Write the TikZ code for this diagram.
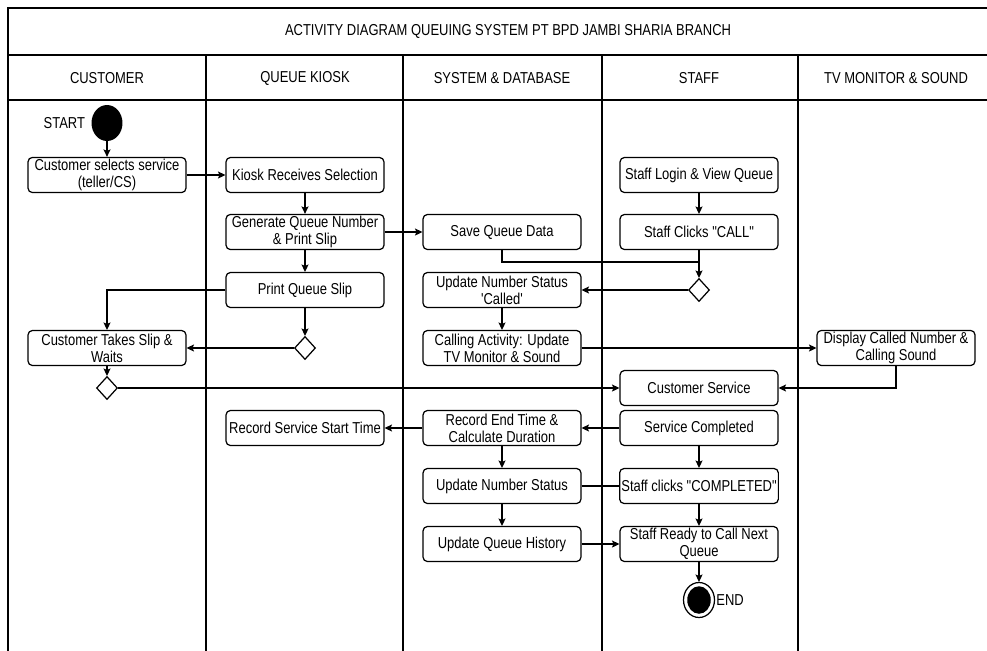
\documentclass[tikz,border=0pt]{standalone}
\usepackage{fontspec}
\newfontfamily\lanefont[FakeStretch=0.82]{Liberation Sans}
\usetikzlibrary{arrows.meta,shapes.geometric}

\tikzset{
  act/.style={draw, rounded corners=2.5pt, line width=0.7pt, minimum width=3.16cm,
    minimum height=0.7cm, align=center, inner sep=1pt, font=\lanefont\fontsize{9}{9.6}\selectfont},
  dec/.style={draw, diamond, line width=0.7pt, inner sep=0pt, minimum width=0.42cm, minimum height=0.46cm},
  flow/.style={line width=0.7pt, -{Stealth[length=4.2pt,width=4pt,inset=0.8pt]}},
  lane/.style={line width=0.85pt},
  lbl/.style={font=\lanefont\fontsize{9}{9.6}\selectfont}
}

\begin{document}
\begin{tikzpicture}[x=0.02cm, y=-0.02cm]
  \useasboundingbox (0,0) rectangle (987,650);

  % swimlane frame
  \draw[lane] (8,660) -- (8,8) -- (1010,8);
  \draw[lane] (8,55) -- (1010,55);
  \draw[lane] (8,100) -- (1010,100);
  \foreach \x in {206,403,602,798}
    \draw[lane] (\x,55) -- (\x,660);

  \node[lbl] (title) at (508,31) {ACTIVITY DIAGRAM QUEUING SYSTEM PT BPD JAMBI SHARIA BRANCH};
  \node[lbl] (hcust)  at (107,78) {CUSTOMER};
  \node[lbl] (hkiosk) at (305,78) {QUEUE KIOSK};
  \node[lbl] (hsys)   at (502,78) {SYSTEM \& DATABASE};
  \node[lbl] (hstaff) at (699,78) {STAFF};
  \node[lbl] (htv)    at (896,78) {TV MONITOR \& SOUND};

  % customer lane
  \node[ellipse, fill=black, minimum width=0.62cm, minimum height=0.72cm, inner sep=0pt] (start) at (107,123) {};
  \node[lbl, anchor=east] (startlbl) at (start.west) {START};
  \node[act] (sel) at (107,175) {Customer selects service\\(teller/CS)};
  \node[act] (takes) at (107,348) {Customer Takes Slip \&\\Waits};
  \node[dec] (d2) at (107,388) {};

  % queue kiosk lane
  \node[act] (kiosk) at (305,175) {Kiosk Receives Selection};
  \node[act] (gen) at (305,232) {Generate Queue Number\\\& Print Slip};
  \node[act] (pslip) at (305,290) {Print Queue Slip};
  \node[dec] (d1) at (305,348) {};
  \node[act] (recstart) at (305,428) {Record Service Start Time};

  % system & database lane
  \node[act] (save) at (502,232) {Save Queue Data};
  \node[act] (called) at (502,290) {Update Number Status\\'Called'};
  \node[act] (calling) at (502,348) {Calling Activity: Update\\TV Monitor \& Sound};
  \node[act] (recend) at (502,428) {Record End Time \&\\Calculate Duration};
  \node[act] (upd) at (502,486) {Update Number Status};
  \node[act] (hist) at (502,544) {Update Queue History};

  % staff lane
  \node[act] (login) at (699,175) {Staff Login \& View Queue};
  \node[act] (call) at (699,232) {Staff Clicks "CALL"};
  \node[dec] (d3) at (699,290) {};
  \node[act] (cserv) at (699,388) {Customer Service};
  \node[act] (done) at (699,428) {Service Completed};
  \node[act] (clk) at (699,486) {Staff clicks "COMPLETED"};
  \node[act] (ready) at (699,544) {Staff Ready to Call Next\\Queue};
  \node[ellipse, draw, line width=0.7pt, minimum width=0.62cm, minimum height=0.7cm, inner sep=0pt] (endn) at (699,600) {};
  \node[ellipse, fill=black, minimum width=0.47cm, minimum height=0.55cm, inner sep=0pt] (endin) at (endn) {};
  \node[lbl, anchor=west, inner sep=0.5pt] (endlbl) at (endn.east) {END};

  % tv monitor lane
  \node[act] (display) at (896,348) {Display Called Number \&\\Calling Sound};

  % connectors
  \coordinate (join) at (699,262);
  \draw[flow] (start) -- (sel);
  \draw[flow] (sel) -- (kiosk);
  \draw[flow] (kiosk) -- (gen);
  \draw[flow] (gen) -- (save);
  \draw[flow] (gen) -- (pslip);
  \draw[flow] (pslip.west) -| (takes.north);
  \draw[flow] (pslip) -- (d1);
  \draw[flow] (d1) -- (takes.east);
  \draw[flow] (takes) -- (d2);
  \draw[flow] (d2) -- (cserv.west);
  \draw[flow] (login) -- (call);
  \draw[flow] (call) -- (d3);
  \draw[line width=0.7pt] (save.south) |- (join);
  \draw[flow] (d3) -- (called.east);
  \draw[flow] (called) -- (calling);
  \draw[flow] (calling) -- (display);
  \draw[flow] (display.south) |- (cserv.east);
  \draw[flow] (done) -- (recend);
  \draw[flow] (recend) -- (recstart);
  \draw[flow] (recend) -- (upd);
  \draw[flow] (done) -- (clk);
  \draw[line width=0.7pt] (upd) -- (clk);
  \draw[flow] (clk) -- (ready);
  \draw[flow] (upd) -- (hist);
  \draw[flow] (hist) -- (ready);
  \draw[flow] (ready) -- (endn);
\end{tikzpicture}
\end{document}
